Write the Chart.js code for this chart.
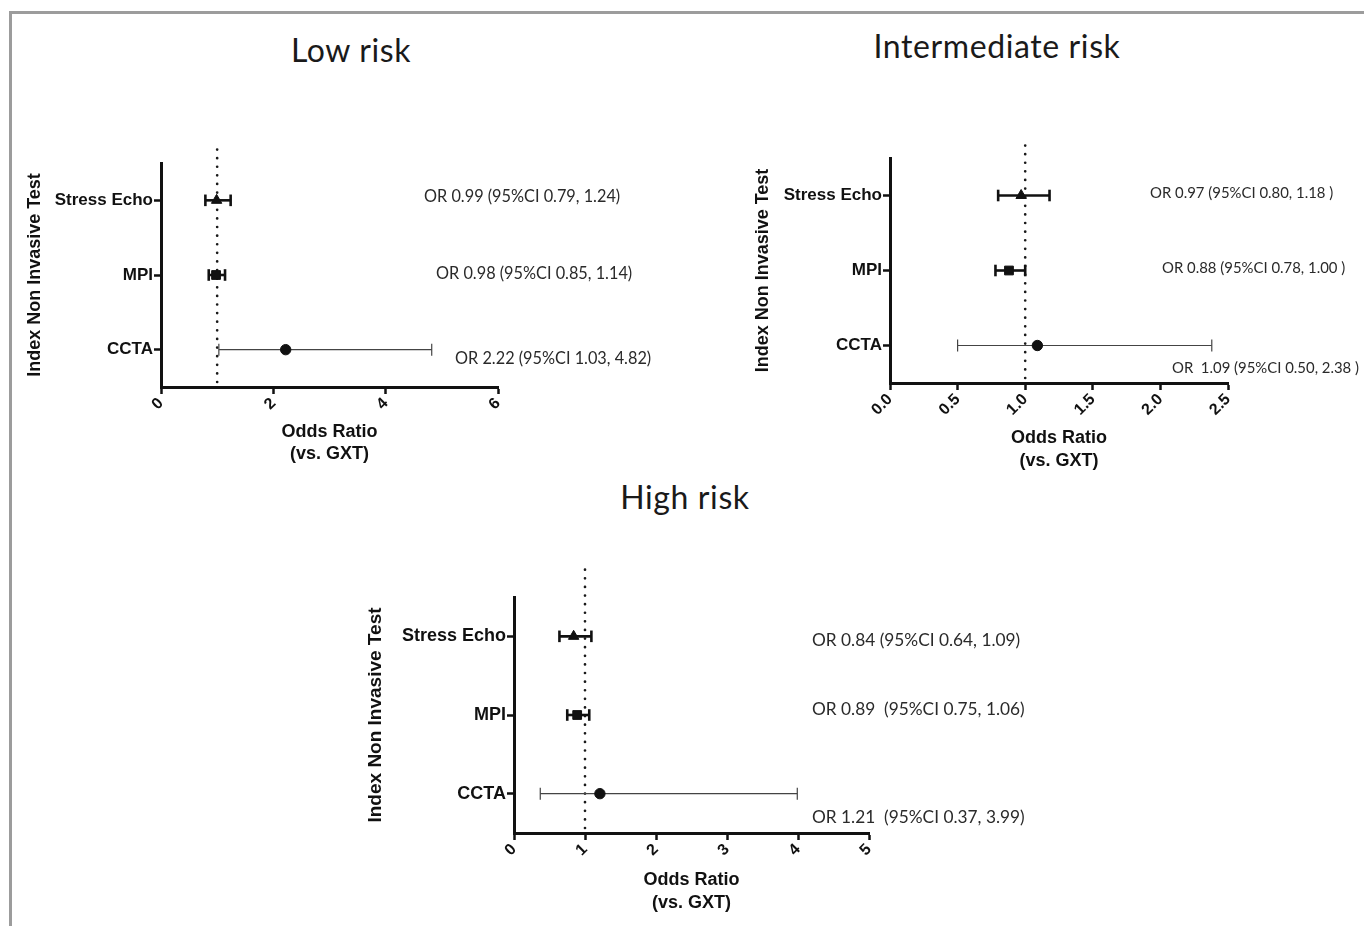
<!DOCTYPE html>
<html>
<head>
<meta charset="utf-8">
<script src="https://cdn.jsdelivr.net/npm/chart.js@4.4.0/dist/chart.umd.min.js"></script>
<style>
  html, body { margin: 0; padding: 0; background: #fff; }
  body { width: 1364px; height: 926px; position: relative; overflow: hidden; }
  #frame { position: absolute; left: 9px; top: 11px; width: 1400px; height: 1000px;
           border-left: 3px solid #9c9c9c; border-top: 3px solid #9c9c9c; }
  canvas.panel { position: absolute; }
  .title { position: absolute; font-family: Lato, "Open Sans", sans-serif; font-size: 32px; letter-spacing: 0.6px; color: #1a1a1a;
           transform: translate(-50%, -50%); white-space: nowrap; }
  .ann { position: absolute; font-family: Lato, "Open Sans", sans-serif; color: #2a2a2a;
         transform: translateY(-50%); white-space: pre; }
</style>
</head>
<body>
<div id="frame"></div>
<canvas id="c1" class="panel"></canvas>
<canvas id="c2" class="panel"></canvas>
<canvas id="c3" class="panel"></canvas>
<div id="texts"></div>
<script>
// ---------------- data ----------------
const categories = ['Stress Echo', 'MPI', 'CCTA'];
const markerStyles = ['triangle', 'rect', 'circle'];
const panelTitles = ['Low risk', 'Intermediate risk', 'High risk'];

const lowOR = [0.99, 0.98, 2.22];
const lowLo = [0.79, 0.85, 1.03];
const lowHi = [1.24, 1.14, 4.82];

const intOR = [0.97, 0.88, 1.09];
const intLo = [0.80, 0.78, 0.50];
const intHi = [1.18, 1.00, 2.38];

const highOR = [0.84, 0.89, 1.21];
const highLo = [0.64, 0.75, 0.37];
const highHi = [1.09, 1.06, 3.99];

const lowTicks = ['0', '2', '4', '6'];
const intTicks = ['0.0', '0.5', '1.0', '1.5', '2.0', '2.5'];
const highTicks = ['0', '1', '2', '3', '4', '5'];

const lowNotes = ['OR 0.99 (95%CI 0.79, 1.24)', 'OR 0.98 (95%CI 0.85, 1.14)', 'OR 2.22 (95%CI 1.03, 4.82)'];
const intNotes = ['OR 0.97 (95%CI 0.80, 1.18 )', 'OR 0.88 (95%CI 0.78, 1.00 )', 'OR  1.09 (95%CI 0.50, 2.38 )'];
const highNotes = ['OR 0.84 (95%CI 0.64, 1.09)', 'OR 0.89  (95%CI 0.75, 1.06)', 'OR 1.21  (95%CI 0.37, 3.99)'];

const yTitle = 'Index Non Invasive Test';
const xTitle = ['Odds Ratio', '(vs. GXT)'];
const refValue = [1];

// ---------------- drawing ----------------
const refLinePlugin = {
  id: 'refLine',
  beforeDatasetsDraw(chart, args, opts) {
    const ctx = chart.ctx;
    const x = chart.scales.x.getPixelForValue(refValue[0]);
    const { top, bottom } = chart.chartArea;
    ctx.save();
    ctx.strokeStyle = '#1a1a1a';
    ctx.lineWidth = 2.7;
    ctx.lineCap = 'round';
    ctx.setLineDash([0.01, 8.6]);
    ctx.beginPath();
    ctx.moveTo(x, bottom - 5);
    ctx.lineTo(x, top - opts.extend);
    ctx.stroke();
    ctx.restore();
  }
};

function makePanel(p) {
  const canvas = document.getElementById(p.id);
  canvas.width = p.w; canvas.height = p.h;
  canvas.style.left = p.left + 'px'; canvas.style.top = p.top + 'px';
  canvas.style.width = p.w + 'px'; canvas.style.height = p.h + 'px';

  const datasets = [];
  categories.forEach((c, i) => {
    const thin = i === 2;
    const col = thin ? '#444' : '#111';
    const bw = thin ? 1.2 : 2.6;
    datasets.push({
      type: 'line',
      data: [{ x: p.lo[i], y: c }, { x: p.hi[i], y: c }],
      borderColor: col, borderWidth: bw,
      pointStyle: 'line', rotation: 90,
      pointRadius: thin ? 6 : 5.8, pointBorderWidth: bw, pointBorderColor: col,
      pointBackgroundColor: col,
      showLine: true, fill: false, clip: false, order: 2
    });
  });
  datasets.push({
    type: 'scatter',
    data: categories.map((c, i) => ({ x: p.or[i], y: c })),
    pointStyle: markerStyles,
    pointRadius: [6, 6.2, 5.2],
    backgroundColor: '#111', borderColor: '#111', pointBorderWidth: 1,
    clip: false, order: 1
  });

  const boldFont = (size, lh) => ({ family: '"Liberation Sans", Arial, sans-serif', weight: 'bold', size: size, lineHeight: lh || 1.2 });

  new Chart(canvas, {
    type: 'scatter',
    data: { datasets },
    plugins: [refLinePlugin],
    options: {
      responsive: false,
      animation: false,
      devicePixelRatio: 1,
      layout: { padding: { left: 0, top: p.padTop, right: p.padRight, bottom: 0 } },
      plugins: {
        legend: { display: false },
        tooltip: { enabled: false },
        refLine: { extend: p.extend }
      },
      scales: {
        x: {
          type: 'linear', position: 'bottom',
          min: p.xMin, max: p.xMax,
          ticks: {
            stepSize: p.step, autoSkip: false, minRotation: 45, maxRotation: 45,
            color: '#111', font: boldFont(p.tickFont), padding: 0,
            callback: (v, idx) => p.tickLabels[idx]
          },
          grid: { display: true, drawOnChartArea: false, drawTicks: true, tickLength: 7, tickWidth: 2.5, color: '#111' },
          border: { display: true, width: 3, color: '#111' },
          title: { display: true, text: xTitle, color: '#111', font: boldFont(p.xTitleFont, p.xTitleLH), padding: { top: 0, bottom: 0 } },
          afterFit: (s) => { s.height = p.xHeight; }
        },
        y: {
          type: 'category', labels: categories, offset: true, position: 'left',
          ticks: { color: '#111', font: boldFont(p.yTickFont), padding: 1 },
          grid: { display: true, drawOnChartArea: false, drawTicks: true, tickLength: 7, tickWidth: 2.5, color: '#111' },
          border: { display: true, width: 3, color: '#111' },
          title: { display: true, text: yTitle, color: '#111', font: boldFont(p.yTitleFont), padding: { top: 0, bottom: 0 } },
          afterFit: (s) => { s.width = p.yWidth; }
        }
      }
    }
  });
}

makePanel({ id: 'c1', left: 24, top: 133, w: 494, h: 332, padTop: 30, padRight: 20,
  yWidth: 137, xHeight: 78, extend: 17,
  or: lowOR, lo: lowLo, hi: lowHi, xMin: 0, xMax: 6, step: 2, tickLabels: lowTicks,
  tickFont: 16, yTickFont: 17, yTitleFont: 18, xTitleFont: 18, xTitleLH: 1.22 });

makePanel({ id: 'c2', left: 752, top: 128, w: 496, h: 345, padTop: 30, padRight: 20,
  yWidth: 138, xHeight: 90, extend: 13,
  or: intOR, lo: intLo, hi: intHi, xMin: 0, xMax: 2.5, step: 0.5, tickLabels: intTicks,
  tickFont: 16, yTickFont: 17, yTitleFont: 18, xTitleFont: 18, xTitleLH: 1.3 });

makePanel({ id: 'c3', left: 364, top: 557, w: 525, h: 358, padTop: 40, padRight: 20,
  yWidth: 150, xHeight: 82, extend: 31,
  or: highOR, lo: highLo, hi: highHi, xMin: 0, xMax: 5, step: 1, tickLabels: highTicks,
  tickFont: 16, yTickFont: 18, yTitleFont: 19, xTitleFont: 18, xTitleLH: 1.28 });

// ---------------- titles & annotations ----------------
const texts = document.getElementById('texts');
function addTitle(txt, cx, cy) {
  const d = document.createElement('div');
  d.className = 'title'; d.textContent = txt;
  d.style.left = cx + 'px'; d.style.top = cy + 'px';
  texts.appendChild(d);
}
function addNote(txt, x, cy, size) {
  const d = document.createElement('div');
  d.className = 'ann'; d.textContent = txt;
  d.style.left = x + 'px'; d.style.top = cy + 'px'; d.style.fontSize = size + 'px';
  texts.appendChild(d);
}
addTitle(panelTitles[0], 351, 49);
addTitle(panelTitles[1], 997, 45);
addTitle(panelTitles[2], 685, 496);

const lowPos = [[424, 195], [436, 272], [455, 357]];
const intPos = [[1150, 192], [1162, 267], [1172, 367]];
const highPos = [[812, 639], [812, 708], [812, 816]];
lowNotes.forEach((t, i) => addNote(t, lowPos[i][0], lowPos[i][1], 16.3));
intNotes.forEach((t, i) => addNote(t, intPos[i][0], intPos[i][1], 14.9));
highNotes.forEach((t, i) => addNote(t, highPos[i][0], highPos[i][1], 17.3));
</script>
</body>
</html>
